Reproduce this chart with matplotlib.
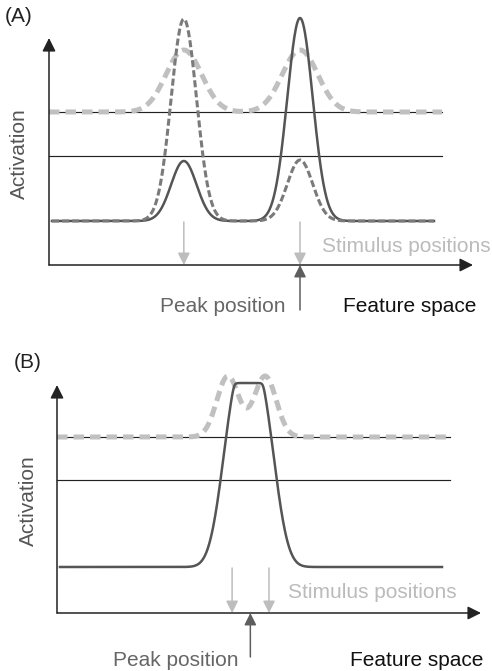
import numpy as np
import matplotlib.pyplot as plt

plt.rcParams['font.family'] = ['Liberation Sans', 'DejaVu Sans']

# ---- panel A values (feature units 0..100, activation units) ----
A_stim = [31.8, 59.2]          # stimulus positions
A_peak = 59.2                  # peak position
A_rest = -6.5                  # resting level of the field
A_upper = 4.4                  # upper reference line
A_solid_amp = [6.0, 20.3]      # solid curve bump heights
A_dash_amp = [20.2, 6.1]       # dark dashed curve bump heights
A_light_amp = [6.2, 6.2]       # light dashed (input) bump heights
A_sigma = 3.0
A_light_sigma = 4.2
A_axis_y = -10.9
A_axis_top = 11.8

# ---- panel B values ----
B_stim = [41.3, 50.0]
B_peak = 45.6
B_rest = -8.7
B_upper = 4.3
B_light_centers = [40.3, 49.1]
B_light_amp = [6.08, 6.08]
B_light_sigma = 2.6
B_plateau_center = 45.2
B_plateau_width = 6.93
B_plateau_shape = 2.7
B_plateau_drive = 21.2
B_plateau_height = 18.4
B_axis_y = -13.3
B_axis_top = 9.5

x_end = 100
line_end = 92.7
curve_start, curve_end = 0.7, 90.8

C_BLACK = '#222222'
C_SOLID = '#555555'
C_DASH = '#7a7a7a'
C_LIGHT = '#c0c0c0'
FS = 15


def gauss(x, c, s):
    return np.exp(-(x - c) ** 2 / (2 * s ** 2))


def arrow(ax, x0, y0, x1, y1, color, lw=1.1, ms=18):
    ax.annotate('', xy=(x1, y1), xytext=(x0, y0),
                arrowprops=dict(arrowstyle='-|>', color=color, lw=lw,
                                mutation_scale=ms, shrinkA=0, shrinkB=0))


fig = plt.figure(figsize=(4.92, 6.71), dpi=100)

# pixel boxes for each panel
axA = fig.add_axes([0, 1 - 330 / 671, 1, 330 / 671])
axB = fig.add_axes([0, 0, 1, 341 / 671])
axA.set_xlim((0 - 49) / 4.24, (492 - 49) / 4.24)
axA.set_ylim(-17.4, 15.6)
axB.set_xlim((0 - 57) / 4.24, (492 - 57) / 4.24)
axB.set_ylim(-19.1, 15.0)
for ax in (axA, axB):
    ax.axis('off')

x = np.linspace(curve_start, curve_end, 800)
xl = np.linspace(0, line_end, 800)

# ---------- A ----------
ax = axA
ax.plot([0, line_end], [A_upper, A_upper], color=C_BLACK, lw=0.85, zorder=1)
ax.plot([0, line_end], [0, 0], color=C_BLACK, lw=0.85, zorder=1)
light = A_upper + sum(a * gauss(xl, c, A_light_sigma) for a, c in zip(A_light_amp, A_stim))
ax.plot(xl, light, color=C_LIGHT, lw=3.6, dashes=(2.1, 1.2), zorder=2)
solid = A_rest + sum(a * gauss(x, c, A_sigma) for a, c in zip(A_solid_amp, A_stim))
ax.plot(x, solid, color=C_SOLID, lw=1.8, zorder=3)
dash = A_rest + sum(a * gauss(x, c, A_sigma) for a, c in zip(A_dash_amp, A_stim))
ax.plot(x, dash, color=C_DASH, lw=2.2, dashes=(2.3, 1.0), zorder=4)

arrow(ax, 0, A_axis_y, x_end, A_axis_y, C_BLACK, lw=1.1, ms=20)
arrow(ax, 0, A_axis_y, 0, A_axis_top, C_BLACK, lw=1.1, ms=20)
for s in A_stim:
    arrow(ax, s, A_rest - 0.1, s, A_axis_y, '#bdbdbd')
arrow(ax, A_peak, A_axis_y - 4.5, A_peak, A_axis_y, '#5e5e5e')

ax.text(-10.4, 13.9, '(A)', fontsize=FS, color=C_BLACK, va='center', ha='left')
ax.text(-6.9, 0.2, 'Activation', fontsize=FS, color='#555555', rotation=90,
        va='center', ha='center')
ax.text(64.4, -9.1, 'Stimulus positions', fontsize=FS, color='#bbbbbb',
        va='center', ha='left')
ax.text(55.7, -15.1, 'Peak position', fontsize=FS, color='#666666',
        va='center', ha='right')
ax.text(69.3, -15.1, 'Feature space', fontsize=FS, color='#111111',
        va='center', ha='left')

# ---------- B ----------
ax = axB
ax.plot([0, line_end], [B_upper, B_upper], color=C_BLACK, lw=0.85, zorder=1)
ax.plot([0, line_end], [0, 0], color=C_BLACK, lw=0.85, zorder=1)
light = B_upper + sum(a * gauss(xl, c, B_light_sigma) for a, c in zip(B_light_amp, B_light_centers))
ax.plot(xl, light, color=C_LIGHT, lw=3.6, dashes=(2.1, 1.2), zorder=2)
# saturating peak: bump drive soft-clipped at the plateau height
drive = B_plateau_drive * np.exp(-(np.abs(x - B_plateau_center) / B_plateau_width) ** B_plateau_shape)
k = 2.5
plateau = -np.log(np.exp(-k * drive) + np.exp(-k * B_plateau_height)) / k
ax.plot(x, B_rest + plateau, color=C_SOLID, lw=1.8, zorder=3)

arrow(ax, 0, B_axis_y, x_end, B_axis_y, C_BLACK, lw=1.1, ms=20)
arrow(ax, 0, B_axis_y, 0, B_axis_top, C_BLACK, lw=1.1, ms=20)
for s in B_stim:
    arrow(ax, s, B_rest - 0.1, s, B_axis_y, '#bdbdbd')
arrow(ax, B_peak, B_axis_y - 4.4, B_peak, B_axis_y, '#5e5e5e')

ax.text(-10.1, 11.7, '(B)', fontsize=FS, color=C_BLACK, va='center', ha='left')
ax.text(-6.8, -2.1, 'Activation', fontsize=FS, color='#555555', rotation=90,
        va='center', ha='center')
ax.text(54.5, -11.3, 'Stimulus positions', fontsize=FS, color='#bbbbbb',
        va='center', ha='left')
ax.text(42.7, -18.0, 'Peak position', fontsize=FS, color='#666666',
        va='center', ha='right')
ax.text(69.1, -18.0, 'Feature space', fontsize=FS, color='#111111',
        va='center', ha='left')

fig.savefig('out.png', dpi=100)
